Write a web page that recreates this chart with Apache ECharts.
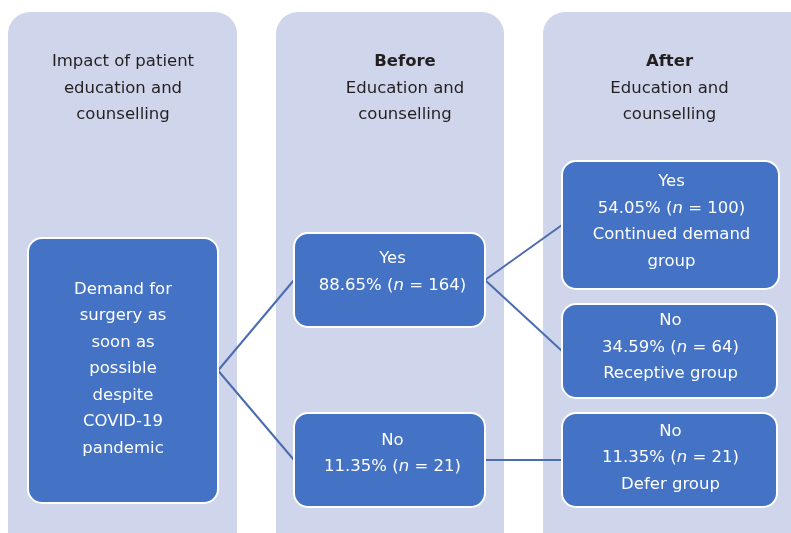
<!DOCTYPE html>
<html><head><meta charset="utf-8">
<script src="https://cdn.jsdelivr.net/npm/echarts@6/dist/echarts.min.js"></script>
<style>html,body{margin:0;padding:0;background:#fff}#c{width:791px;height:533px}</style>
</head><body><div id="c"></div>
<script>
// ---- data ----
const stageTitles = ['', 'Before', 'After'];
const stageSubtitles = ['Impact of patient\neducation and\ncounselling', 'Education and\ncounselling', 'Education and\ncounselling'];
const rootLabel = 'Demand for\nsurgery as\nsoon as\npossible\ndespite\nCOVID-19\npandemic';
const beforeAnswers = ['Yes', 'No'];
const beforePct = [88.65, 11.35];
const beforeN = [164, 21];
const afterAnswers = ['Yes', 'No', 'No'];
const afterPct = [54.05, 34.59, 11.35];
const afterN = [100, 64, 21];
const afterGroups = ['Continued demand\ngroup', 'Receptive group', 'Defer group'];
const afterParent = [0, 0, 1];

// ---- layout (in diagram units, mapped through hidden axes) ----
const panelBoxes = [[8, 12, 229, 560], [276, 12, 228, 560], [543, 12, 270, 560]];
const titleCenters = [123, 405, 669.5];
const titleY = 62;
const rootBox = [28, 238, 190, 265];
const beforeBoxes = [[294, 233, 191, 94], [294, 413, 191, 94]];
const afterBoxes = [[562, 161, 217, 128], [562, 304, 215, 94], [562, 413, 215, 94]];
const rootTextDy = -1.5;
const beforeTextDy = [-8, -6.5];
const afterTextDy = [-3.5, -3.5, -2];
const beforeTextDx = [3, 3];
const afterTextDx = [1, 1, 1];

const FONT = '"DejaVu Sans", Verdana, sans-serif';
const FS = 16.5, LH = 26.5;
const PANEL = '#CFD5EA', BOX = '#4472C4', LINE = '#4A6CB0', TXT = '#231F20';

function pctText(p, n) { return p.toFixed(2) + '% ({i|n} = ' + n + ')'; }

const boxes = [];
boxes.push({ r: rootBox, text: rootLabel, dy: rootTextDy, dx: 0 });
beforeAnswers.forEach((a, i) => boxes.push({ r: beforeBoxes[i], text: a + '\n' + pctText(beforePct[i], beforeN[i]), dy: beforeTextDy[i], dx: beforeTextDx[i] }));
afterAnswers.forEach((a, i) => boxes.push({ r: afterBoxes[i], text: a + '\n' + pctText(afterPct[i], afterN[i]) + '\n' + afterGroups[i], dy: afterTextDy[i], dx: afterTextDx[i] }));

const mid = r => [r[0] + r[2], r[1] + r[3] / 2];
const left = r => [r[0], r[1] + r[3] / 2];
const links = [];
beforeBoxes.forEach(b => links.push([mid(rootBox), left(b)]));
afterBoxes.forEach((b, i) => links.push([mid(beforeBoxes[afterParent[i]]), left(b)]));

const chart = echarts.init(document.getElementById('c'), null, { renderer: 'canvas' });
const richI = { i: { fontStyle: 'italic', fontFamily: FONT, fontSize: FS, color: '#fff', lineHeight: LH } };

chart.setOption({
  animation: false,
  grid: { left: 0, right: 0, top: 0, bottom: 0 },
  xAxis: { type: 'value', min: 0, max: 791, show: false },
  yAxis: { type: 'value', min: 0, max: 533, inverse: true, show: false },
  series: [
    { // panels
      type: 'custom', clip: false, z: 1,
      data: panelBoxes.map((r, i) => [r[0], r[1], r[2], r[3], i]),
      renderItem: (params, api) => {
        const p = api.coord([api.value(0), api.value(1)]);
        const s = api.size([api.value(2), api.value(3)]);
        const i = api.value(4);
        const children = [{ type: 'rect', shape: { x: p[0], y: p[1], width: s[0], height: s[1], r: 22 }, style: { fill: PANEL } }];
        const t = api.coord([titleCenters[i], titleY]);
        let lines = [];
        if (stageTitles[i]) lines.push('{b|' + stageTitles[i] + '}');
        stageSubtitles[i].split('\n').forEach(l => lines.push(l));
        children.push({
          type: 'text', style: {
            text: lines.join('\n'), x: t[0], y: t[1] - LH / 2, align: 'center', verticalAlign: 'top',
            fontFamily: FONT, fontSize: FS, lineHeight: LH, fill: TXT,
            rich: { b: { fontWeight: 'bold', fontFamily: FONT, fontSize: FS, lineHeight: LH, color: TXT } }
          }
        });
        return { type: 'group', children };
      }
    },
    { // links
      type: 'custom', clip: false, z: 2,
      data: links.map(l => [l[0][0], l[0][1], l[1][0], l[1][1]]),
      renderItem: (params, api) => {
        const a = api.coord([api.value(0), api.value(1)]);
        const b = api.coord([api.value(2), api.value(3)]);
        return { type: 'line', shape: { x1: a[0], y1: a[1], x2: b[0], y2: b[1] }, style: { stroke: LINE, lineWidth: 2 } };
      }
    },
    { // boxes
      type: 'custom', clip: false, z: 3,
      data: boxes.map((b, i) => [b.r[0], b.r[1], b.r[2], b.r[3], i]),
      renderItem: (params, api) => {
        const p = api.coord([api.value(0), api.value(1)]);
        const s = api.size([api.value(2), api.value(3)]);
        const b = boxes[api.value(4)];
        return {
          type: 'group', children: [
            { type: 'rect', shape: { x: p[0], y: p[1], width: s[0], height: s[1], r: 14 }, style: { fill: BOX, stroke: '#fff', lineWidth: 2 } },
            { type: 'text', style: {
              text: b.text, x: p[0] + s[0] / 2 + b.dx, y: p[1] + s[1] / 2 + b.dy, align: 'center', verticalAlign: 'middle',
              fontFamily: FONT, fontSize: FS, lineHeight: LH, fill: '#fff', rich: richI } }
          ]
        };
      }
    }
  ]
});
</script></body></html>
